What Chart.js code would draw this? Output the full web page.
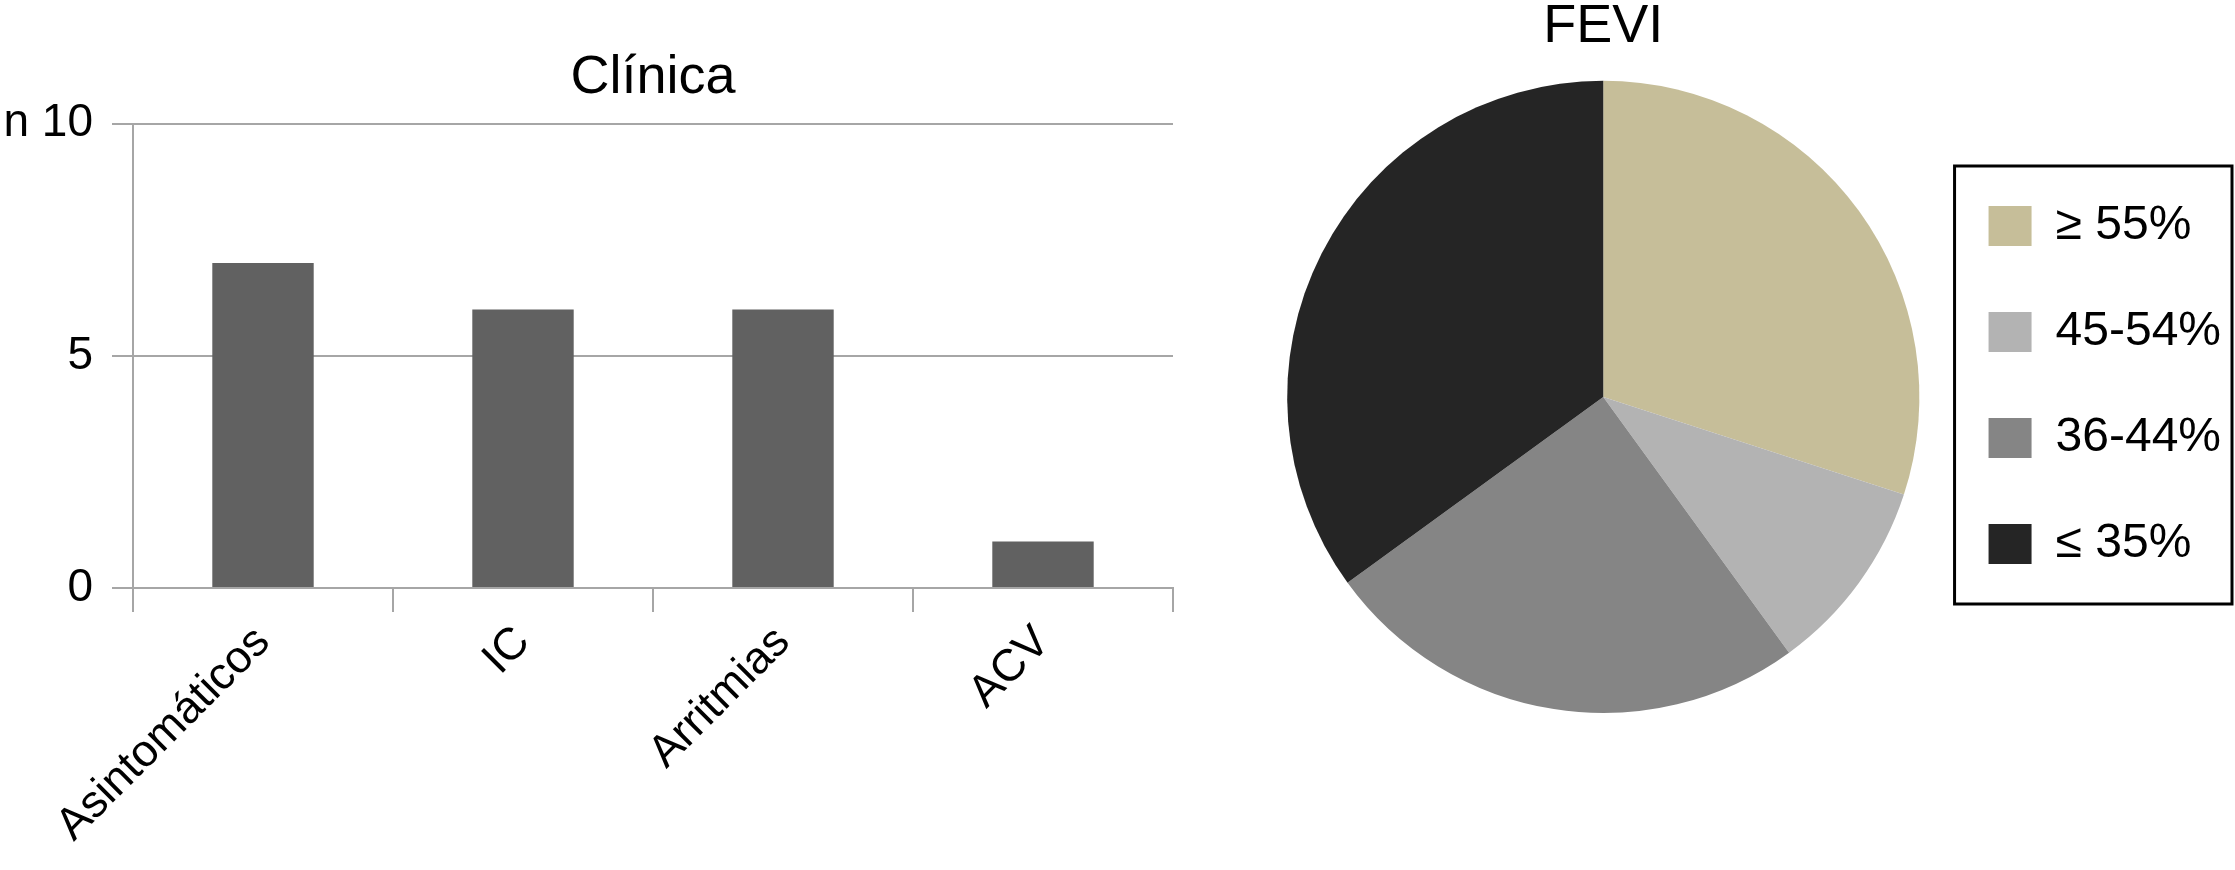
<!DOCTYPE html>
<html>
<head>
<meta charset="utf-8">
<script src="https://cdn.jsdelivr.net/npm/chart.js@4"></script>
<style>
    html, body { margin: 0; padding: 0; background: #fff; }
    #wrap { position: relative; width: 2235px; height: 870px; overflow: hidden; }
    .box { position: absolute; top: 0; height: 870px; }
    #box-clinica { left: 0; width: 1200px; }
    #box-fevi { left: 1200px; width: 1035px; }
</style>
</head>
<body>
<div id="wrap">
    <div class="box" id="box-clinica"><canvas id="chart-clinica"></canvas></div>
    <div class="box" id="box-fevi"><canvas id="chart-fevi"></canvas></div>
</div>
<script>
// ─── Data ─────────────────────────────────────────────────────────────────────
const clinicaLabels = ["Asintomáticos", "IC", "Arritmias", "ACV"];
const clinicaValues = [7, 6, 6, 1];
const clinicaTickText = ["0", "5", "n 10"];

const feviLabels = ["≥ 55%", "45-54%", "36-44%", "≤ 35%"];
const feviValues = [6, 2, 5, 7];
const feviColors = ["#c6be99", "#b3b3b3", "#858585", "#252525"];

// ─── Shared style ─────────────────────────────────────────────────────────────
Chart.defaults.font.family = "'Liberation Sans', Arial, sans-serif";
Chart.defaults.color = "#000";
const GRID = "#a6a6a6";

// ─── Bar chart: Clínica ───────────────────────────────────────────────────────
new Chart(document.getElementById("chart-clinica"), {
    type: "bar",
    data: {
        labels: clinicaLabels,
        datasets: [{
            data: clinicaValues,
            backgroundColor: "#616161",
            borderWidth: 0,
            categoryPercentage: 1,
            barPercentage: 0.39,
        }],
    },
    options: {
        responsive: true,
        maintainAspectRatio: false,
        animation: false,
        layout: { padding: { left: 0, right: 27, top: 0, bottom: 0 } },
        plugins: {
            legend: { display: false },
            tooltip: { enabled: false },
            title: {
                display: true,
                text: "Clínica",
                fullSize: false,
                font: { size: 54, weight: "normal" },
                padding: { top: 46, bottom: 13 },
            },
        },
        scales: {
            x: {
                grid: { display: true, drawOnChartArea: false, drawTicks: true, tickLength: 24, color: GRID, lineWidth: 2, offset: true },
                border: { display: true, color: GRID, width: 2 },
                ticks: { font: { size: 45 }, color: "#000", minRotation: 45, maxRotation: 45, autoSkip: false, padding: 4 },
                afterFit: (scale) => { scale.height = 282; },
            },
            y: {
                min: 0,
                max: 10,
                grid: { color: GRID, lineWidth: 2, tickLength: 21 },
                border: { display: true, color: GRID, width: 2 },
                ticks: {
                    stepSize: 5,
                    font: { size: 46 },
                    color: "#000",
                    padding: 19,
                    callback: (v, i) => clinicaTickText[i],
                },
                afterFit: (scale) => { scale.width = 133; },
            },
        },
    },
});

// ─── Pie chart: FEVI ──────────────────────────────────────────────────────────
// frame around the legend items
const legendFrame = {
    id: "legendFrame",
    afterDraw(chart) {
        const boxes = chart.legend && chart.legend.legendHitBoxes;
        if (!boxes || !boxes.length) return;
        const first = boxes[0];
        const last = boxes[boxes.length - 1];
        const left = first.left - 34;
        const right = Math.min(Math.max(...boxes.map((b) => b.left + b.width)) + 15, chart.width - 3);
        const top = first.top - 36;
        const bottom = last.top + last.height + 36;
        const ctx = chart.ctx;
        ctx.save();
        ctx.strokeStyle = "#000";
        ctx.lineWidth = 3;
        ctx.strokeRect(left, top, right - left, bottom - top);
        ctx.restore();
    },
};

new Chart(document.getElementById("chart-fevi"), {
    type: "pie",
    data: {
        labels: feviLabels,
        datasets: [{
            data: feviValues,
            backgroundColor: feviColors,
            borderWidth: 0,
            hoverBorderWidth: 0,
            hoverOffset: 0,
        }],
    },
    options: {
        responsive: true,
        maintainAspectRatio: false,
        animation: false,
        layout: { padding: { left: 76, right: 4, top: 0, bottom: 157 } },
        plugins: {
            tooltip: { enabled: false },
            title: {
                display: true,
                text: "FEVI",
                fullSize: false,
                font: { size: 54, weight: "normal" },
                padding: { top: -5, bottom: 21 },
            },
            legend: {
                position: "right",
                fullSize: true,
                title: { display: true, text: "", font: { size: 10 }, padding: { top: 45, bottom: 0 } },
                labels: { color: "#000", font: { size: 48 }, boxWidth: 43, boxHeight: 40, padding: 58 },
            },
        },
    },
    plugins: [legendFrame],
});
</script>
</body>
</html>
